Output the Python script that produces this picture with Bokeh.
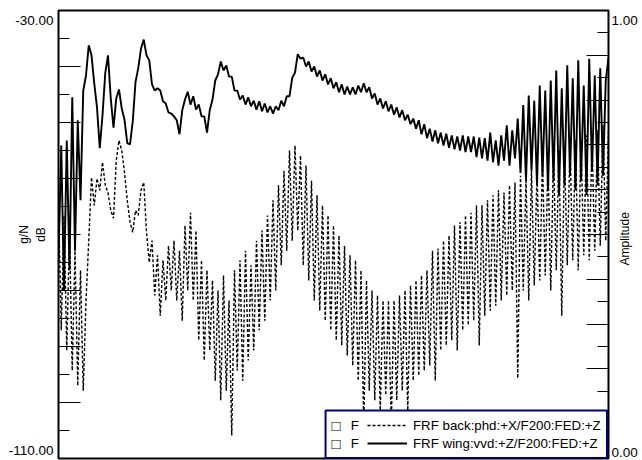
import math
from bokeh.plotting import figure
from bokeh.models import Range1d, LinearAxis, FixedTicker, Label, BoxAnnotation, Legend, LegendItem
from bokeh.embed import file_html
from bokeh.resources import INLINE

# ---------------- data ----------------
freq_hz = list(range(0, 201))

wing_db = [
    -74.6, -54.1, -80.0, -53.2, -76.4, -45.5, -72.9, -49.6, -63.9, -44.3,
    -41.6, -36.2, -38.0, -43.0, -47.3, -54.6, -48.7, -41.2, -38.0, -45.7,
    -50.9, -45.7, -44.1, -47.5, -49.5, -53.7, -53.9, -49.8, -42.8, -40.3,
    -36.8, -35.2, -38.0, -38.9, -43.2, -44.3, -43.9, -44.3, -46.2, -46.6,
    -48.2, -48.4, -48.9, -49.6, -52.1, -47.8, -45.9, -44.5, -46.8, -45.3,
    -47.7, -46.8, -48.9, -48.9, -51.8, -47.8, -45.9, -42.5, -41.4, -39.1,
    -40.7, -39.8, -41.8, -41.8, -44.3, -44.3, -45.9, -45.2, -46.8, -45.5,
    -47.1, -46.1, -47.7, -46.2, -48.0, -46.6, -48.2, -47.1, -48.4, -47.1,
    -47.8, -46.1, -47.1, -45.3, -45.3, -42.0, -41.1, -37.8, -38.6, -38.4,
    -40.0, -39.1, -40.9, -40.0, -41.8, -40.7, -42.5, -41.4, -43.2, -42.1,
    -43.9, -42.8, -44.6, -43.2, -45.0, -43.6, -45.0, -43.7, -45.0, -43.4,
    -44.6, -43.0, -44.6, -43.7, -45.7, -44.8, -46.8, -45.7, -47.5, -46.2,
    -48.0, -46.8, -48.6, -47.3, -49.1, -47.8, -49.6, -48.6, -50.3, -49.3,
    -51.1, -49.6, -52.1, -50.3, -52.8, -51.1, -53.4, -51.4, -53.7, -51.8,
    -54.1, -52.0, -54.5, -52.3, -54.8, -52.5, -55.0, -52.3, -55.3, -52.5,
    -55.3, -52.5, -56.2, -52.7, -56.4, -52.8, -56.8, -51.8, -57.1, -53.2,
    -57.7, -52.3, -56.8, -50.5, -57.7, -51.4, -56.4, -49.3, -59.0, -46.9,
    -60.4, -45.2, -58.6, -46.1, -61.2, -43.4, -59.5, -44.3, -62.1, -42.5,
    -60.4, -40.7, -63.0, -43.9, -61.2, -39.8, -59.5, -42.1, -62.1, -38.9,
    -60.4, -43.4, -63.0, -38.6, -58.6, -41.6, -61.2, -40.3, -59.5, -42.5,
    -38.4,
]

back_db = [
    -63.9, -87.1, -66.6, -90.7, -69.3, -94.3, -72.9, -97.0, -76.4, -97.9,
    -81.8, -71.1, -59.8, -64.8, -60.0, -62.1, -57.1, -61.2, -62.5, -65.7,
    -67.1, -56.8, -53.2, -55.0, -58.9, -63.9, -67.8, -69.6, -65.7, -66.6,
    -62.1, -60.7, -69.6, -75.0, -71.1, -80.9, -73.7, -84.5, -74.6, -81.8,
    -72.0, -80.0, -71.1, -81.8, -72.9, -85.4, -68.4, -80.0, -66.1, -81.8,
    -69.3, -88.9, -74.6, -92.5, -76.4, -90.7, -78.2, -96.1, -80.0, -99.6,
    -77.3, -97.9, -81.8, -105.9, -76.4, -94.3, -74.6, -96.1, -72.9, -92.5,
    -75.5, -90.7, -71.1, -87.1, -69.3, -85.4, -66.6, -81.8, -63.9, -80.0,
    -61.2, -75.5, -58.6, -72.9, -55.0, -71.1, -54.1, -69.3, -55.9, -75.5,
    -57.7, -78.2, -60.4, -81.8, -63.0, -83.6, -64.8, -85.4, -66.6, -87.1,
    -68.4, -88.9, -70.2, -89.8, -72.0, -91.6, -73.7, -93.4, -74.6, -96.1,
    -76.4, -104.1, -78.2, -97.9, -80.0, -99.6, -80.9, -101.4, -81.8, -98.7,
    -81.8, -104.1, -81.8, -99.6, -80.9, -97.9, -80.0, -101.4, -79.1, -96.1,
    -78.2, -95.2, -77.3, -94.3, -76.4, -93.4, -72.9, -96.1, -72.5, -90.7,
    -71.1, -89.8, -70.2, -88.9, -68.4, -90.7, -67.8, -87.1, -66.6, -86.2,
    -66.1, -85.4, -64.8, -89.8, -64.8, -84.5, -63.9, -83.6, -63.0, -82.7,
    -62.1, -81.8, -62.5, -80.9, -61.2, -80.0, -60.7, -95.7, -59.5, -80.0,
    -60.0, -81.8, -58.6, -79.1, -58.9, -78.2, -56.8, -77.3, -57.1, -80.0,
    -55.9, -76.4, -55.0, -84.5, -55.0, -75.5, -54.1, -74.6, -53.2, -76.4,
    -53.2, -73.7, -52.3, -74.6, -53.2, -72.9, -51.4, -72.0, -50.5, -71.1,
    -51.4,
]

series_labels = ["FRF back:phd:+X/F200:FED:+Z", "FRF wing:vvd:+Z/F200:FED:+Z"]

db_range = (-110, -30)
amp_range = (0, 1)
db_major = [-100, -90, -80, -70, -60, -50, -40]
db_minor = [-105, -95, -85, -75, -65, -55, -45, -35]
amp_major = [0.1, 0.2, 0.3, 0.4, 0.5, 0.6, 0.7, 0.8, 0.9]
amp_minor = [0.05, 0.15, 0.25, 0.35, 0.45, 0.55, 0.65, 0.75, 0.85, 0.95]
db_end_labels = ["-30.00", "-110.00"]
amp_end_labels = ["1.00", "0.00"]

FONT = "Liberation Sans"

# frame in pixels: x 58..612, y 10..458
p = figure(width=642, height=460, output_backend="svg", toolbar_location=None,
           x_range=Range1d(0, 200), y_range=Range1d(*db_range),
           x_axis_location=None, y_axis_location="left",
           min_border_left=58, min_border_right=30, min_border_top=10, min_border_bottom=2)
p.grid.visible = False
p.outline_line_color = "black"
p.outline_line_width = 2
p.background_fill_color = "white"
p.border_fill_color = "white"


def dy(py):   # picture row -> dB (label / annotation positions only)
    return -30 - (py - 10) / 448 * 80


def ay(py):   # picture row -> amplitude
    return (458 - py) / 448


def fx(px):   # picture column -> Hz
    return (px - 58) / 554 * 200


# left tick axis (ticks inside the frame, no labels)
ax = p.yaxis[0]
ax.ticker = FixedTicker(ticks=db_major, minor_ticks=db_minor)
ax.major_tick_in = 22
ax.major_tick_out = 0
ax.minor_tick_in = 11
ax.minor_tick_out = 0
ax.major_tick_line_color = "black"
ax.minor_tick_line_color = "black"
ax.axis_line_color = None
ax.major_label_overrides = {v: "" for v in db_major}
ax.major_label_standoff = 0

# left label axis: only the end values, plus the unit title
db_lab_pos = [round(dy(20), 2), round(dy(450), 2)]
lab_ax = LinearAxis(ticker=FixedTicker(ticks=db_lab_pos),
                    major_label_overrides={db_lab_pos[0]: db_end_labels[0], db_lab_pos[1]: db_end_labels[1]},
                    major_tick_line_color=None, minor_tick_line_color=None, axis_line_color=None,
                    major_tick_in=0, major_tick_out=0, major_label_standoff=5,
                    major_label_text_font=FONT, major_label_text_font_size="13.5px",
                    major_label_text_color="black",
                    axis_label="g/N\ndB", axis_label_standoff=-42,
                    axis_label_text_font=FONT, axis_label_text_font_size="12px",
                    axis_label_text_font_style="normal", axis_label_text_color="black")
p.add_layout(lab_ax, "left")

# right tick axis (amplitude scale)
p.extra_y_ranges = {"amp": Range1d(*amp_range)}
rax = LinearAxis(y_range_name="amp", ticker=FixedTicker(ticks=amp_major, minor_ticks=amp_minor),
                 major_tick_in=22, major_tick_out=0, minor_tick_in=11, minor_tick_out=0,
                 major_tick_line_color="black", minor_tick_line_color="black",
                 axis_line_color=None, major_label_overrides={v: "" for v in amp_major},
                 major_label_standoff=0)
p.add_layout(rax, "right")

amp_lab_pos = [round(ay(20), 4), round(ay(452), 4)]
lab_r = LinearAxis(y_range_name="amp", ticker=FixedTicker(ticks=amp_lab_pos),
                   major_label_overrides={amp_lab_pos[0]: amp_end_labels[0], amp_lab_pos[1]: amp_end_labels[1]},
                   major_tick_line_color=None, minor_tick_line_color=None, axis_line_color=None,
                   major_tick_in=0, major_tick_out=0, major_label_standoff=3,
                   major_label_text_font=FONT, major_label_text_font_size="13.5px",
                   major_label_text_color="black")
p.add_layout(lab_r, "right")

# right unit title, drawn as a rotated tick label anchored at its lower end
amp_title_pos = [round(ay(265), 4)]
title_r = LinearAxis(y_range_name="amp", ticker=FixedTicker(ticks=amp_title_pos),
                     major_label_overrides={amp_title_pos[0]: "Amplitude"},
                     major_label_orientation=math.pi / 2,
                     major_tick_line_color=None, minor_tick_line_color=None, axis_line_color=None,
                     major_tick_in=0, major_tick_out=0, major_label_standoff=-15,
                     major_label_text_font=FONT, major_label_text_font_size="12px",
                     major_label_text_color="black")
p.add_layout(title_r, "right")

# ---------------- curves ----------------
r_back = p.line(freq_hz, back_db, line_color="black", line_width=1.4, line_dash="3 2")
r_wing = p.line(freq_hz, wing_db, line_color="black", line_width=1.9)


def add_label(x, y, text, size="13px"):
    p.add_layout(Label(x=x, y=y, text=text, text_align="left", text_baseline="middle",
                       text_font=FONT, text_font_size=size, text_color="black"))


# legend frame
box = BoxAnnotation(left=fx(327), right=fx(610.5), top=dy(410), bottom=dy(457.5),
                    fill_color="white", fill_alpha=1, line_color="#000080", line_alpha=1,
                    line_width=2)
p.add_layout(box)

for row_y in (425, 443):
    add_label(fx(333), dy(row_y), "\u25a1", size="15px")
    add_label(fx(352.5), dy(row_y), "F", size="13.3px")

legend = Legend(items=[LegendItem(label=series_labels[0], renderers=[r_back]),
                       LegendItem(label=series_labels[1], renderers=[r_wing])],
                location=(309, 6), orientation="vertical", padding=0, margin=0, spacing=0,
                glyph_width=40, glyph_height=18, label_height=18, label_standoff=6,
                border_line_color=None, background_fill_alpha=0,
                label_text_font=FONT, label_text_font_size="13.3px", label_text_color="black")
p.add_layout(legend, "center")

open("out.html", "w").write(file_html(p, INLINE))
